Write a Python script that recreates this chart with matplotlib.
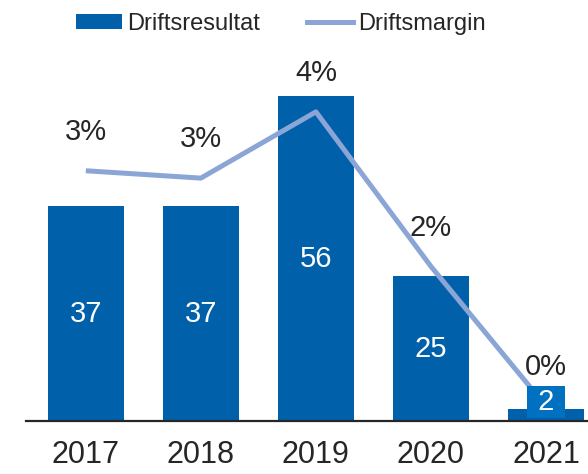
import matplotlib.pyplot as plt
from matplotlib.patches import Patch
from matplotlib.lines import Line2D

plt.rcParams['font.family'] = ['Liberation Sans', 'DejaVu Sans']

years = ["2017", "2018", "2019", "2020", "2021"]
driftsresultat = [37, 37, 56, 25, 2]
driftsmargin = [3.4, 3.3, 4.2, 2.1, 0.2]
margin_labels = ["3%", "3%", "4%", "2%", "0%"]

bar_color = "#0061aa"
box_color = "#0070c0"
line_color = "#8ba6d6"
text_color = "#262626"

fig = plt.figure(figsize=(5.88, 4.74), dpi=100)
ax = fig.add_axes([26 / 588, 53 / 474, 562 / 588, 421 / 474])
x = list(range(len(years)))

ax.bar(x, driftsresultat, width=0.66, color=bar_color, zorder=2)
ax.set_xlim(-0.52, 4.365)
ax.set_ylim(0, 72.6)

# margin line on a secondary axis, drawn over the bars
ax2 = ax.twinx()
ax2.set_ylim(0, 5.72)
ax2.plot(x, driftsmargin, color=line_color, lw=3.6, solid_capstyle="butt", zorder=3)
for i, (v, lab) in enumerate(zip(driftsmargin, margin_labels)):
    ax2.annotate(lab, (i, v), xytext=(0, 28), textcoords="offset points",
                 ha="center", va="center", fontsize=21, color=text_color)

# value labels inside the bars; the small last bar gets a boxed label
for i, v in enumerate(driftsresultat):
    if v < 5:
        ax2.text(i, v / 2 + 2.3, " " + str(v) + " ", ha="center", va="center",
                 color="white", fontsize=21, zorder=5, transform=ax.transData,
                 bbox=dict(boxstyle="square,pad=0.08", fc=box_color, ec="none"))
    else:
        ax2.text(i, v / 2, str(v), ha="center", va="center", color="white",
                 fontsize=21, zorder=5, transform=ax.transData)

for a in (ax, ax2):
    for side in ("top", "right", "left"):
        a.spines[side].set_visible(False)
    a.set_yticks([])
ax2.spines["bottom"].set_visible(False)
ax.spines["bottom"].set_color("#262626")
ax.spines["bottom"].set_linewidth(1.6)
ax.set_xticks(x)
ax.set_xticklabels(years, fontsize=22, color=text_color)
ax.tick_params(axis="x", length=0, pad=14)

handles = [Patch(facecolor=bar_color, edgecolor="none"),
           Line2D([], [], color=line_color, lw=3.6)]
fig.legend(handles, ["Driftsresultat", "Driftsmargin"], loc="center",
           bbox_to_anchor=(0.478, 0.949), ncol=2, frameon=False, fontsize=17,
           handlelength=1.95, handleheight=0.6, handletextpad=0.2,
           columnspacing=2.0, labelcolor=text_color)

fig.savefig("out.png", dpi=100)
